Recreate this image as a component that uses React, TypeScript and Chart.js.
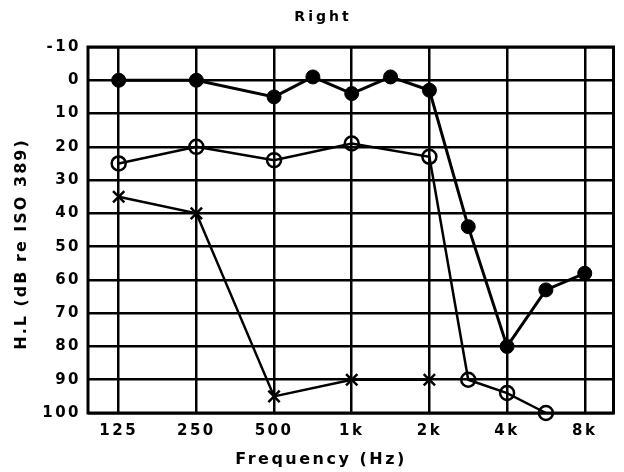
import React, { useEffect, useRef } from "react";
import { Chart, registerables } from "chart.js";

Chart.register(...registerables);

// Octave positions (125 Hz = 0) and their frequency labels
const freqLabels = ["125", "250", "500", "750", "1k", "1.5k", "2k", "3k", "4k", "6k", "8k"];
const freqPos = [0, 1, 2, 2.5, 3, 3.5, 4, 4.5, 5, 5.5, 6];
const tickPos = [0, 1, 2, 3, 4, 5, 6];
const tickLabels = ["125", "250", "500", "1k", "2k", "4k", "8k"];

// Hearing levels, dB (null = not measured)
const filledSeries: (number | null)[] = [0, 0, 5, -1, 4, -1, 3, 44, 80, 63, 58];
const openSeries: (number | null)[] = [25, 20, 24, null, 19, null, 23, 90, 94, 100, null];
const crossSeries: (number | null)[] = [35, 40, 95, null, 90, null, 90, null, null, null, null];

const toPoints = (vals: (number | null)[]) =>
  vals
    .map((v, i) => (v === null ? null : { x: freqPos[i], y: v }))
    .filter((p) => p !== null) as { x: number; y: number }[];

const FONT = "'DejaVu Sans', sans-serif";
const TICK_SPACING = "2.5px";

const setSpacing = (chart: any) => {
  chart.ctx.letterSpacing = TICK_SPACING;
};

const framePlugin = {
  id: "frame",
  beforeUpdate: setSpacing,
  beforeLayout: setSpacing,
  beforeDraw: setSpacing,
  afterDraw(chart: any) {
    const { ctx, chartArea } = chart;
    ctx.save();
    ctx.strokeStyle = "#000";
    ctx.lineWidth = 3;
    ctx.strokeRect(chartArea.left, chartArea.top, chartArea.right - chartArea.left, chartArea.bottom - chartArea.top);
    ctx.fillStyle = "#000";
    ctx.textAlign = "center";
    ctx.textBaseline = "middle";
    ctx.letterSpacing = "3px";
    ctx.font = `bold 14px ${FONT}`;
    ctx.fillText("Right", 323, 17);
    ctx.letterSpacing = "2.5px";
    ctx.font = `bold 16px ${FONT}`;
    ctx.fillText("Frequency (Hz)", 321, 460);
    ctx.letterSpacing = "2px";
    ctx.translate(22, 244);
    ctx.rotate(-Math.PI / 2);
    ctx.fillText("H.L (dB re ISO 389)", 0, 0);
    ctx.restore();
  },
};

export default function App() {
  const ref = useRef<HTMLCanvasElement>(null);

  useEffect(() => {
    if (!ref.current) return;
    const chart = new Chart(ref.current, {
      type: "line",
      data: {
        datasets: [
          {
            label: "filled",
            data: toPoints(filledSeries),
            borderColor: "#000",
            backgroundColor: "#000",
            borderWidth: 3,
            pointStyle: "circle",
            pointRadius: 7,
            pointBorderWidth: 1,
            pointBackgroundColor: "#000",
            pointBorderColor: "#000",
            tension: 0,
          },
          {
            label: "open",
            data: toPoints(openSeries),
            borderColor: "#000",
            borderWidth: 2.5,
            pointStyle: "circle",
            pointRadius: 7,
            pointBorderWidth: 2.5,
            pointBackgroundColor: "rgba(0,0,0,0)",
            pointBorderColor: "#000",
            tension: 0,
          },
          {
            label: "cross",
            data: toPoints(crossSeries),
            borderColor: "#000",
            borderWidth: 2.5,
            pointStyle: "crossRot",
            pointRadius: 8,
            pointBorderWidth: 2.5,
            pointBorderColor: "#000",
            tension: 0,
          },
        ],
      },
      options: {
        animation: false,
        responsive: false,
        clip: false as any,
        layout: { padding: { left: 0, top: 47, right: 7, bottom: 0 } },
        plugins: {
          legend: { display: false },
          title: { display: false },
          tooltip: { enabled: false },
        },
        scales: {
          x: {
            type: "linear",
            min: -0.395,
            max: 6.37,
            afterFit(scale: any) {
              scale.height = 59;
            },
            afterBuildTicks(scale: any) {
              scale.ticks = tickPos.map((v) => ({ value: v }));
            },
            ticks: {
              padding: 9,
              color: "#000",
              font: { family: FONT, size: 15, weight: "bold" },
              maxRotation: 0,
              autoSkip: false,
              callback: (v: any) => {
                const i = tickPos.indexOf(Number(v));
                return i >= 0 ? tickLabels[i] : "";
              },
            },
            grid: { color: "#000", lineWidth: 2.5, drawTicks: false },
            border: { display: false },
          },
          y: {
            type: "linear",
            min: -10,
            max: 100,
            reverse: true,
            afterFit(scale: any) {
              scale.width = 88;
            },
            ticks: {
              stepSize: 10,
              padding: 7,
              color: "#000",
              font: { family: FONT, size: 15, weight: "bold" },
            },
            grid: { color: "#000", lineWidth: 2.5, drawTicks: false },
            border: { display: false },
          },
        },
      },
      plugins: [framePlugin],
    });
    return () => chart.destroy();
  }, []);

  return (
    <div style={{ position: "fixed", left: 0, top: 0, width: 624, height: 472, background: "#fff" }}>
      <canvas ref={ref} width={624} height={472} />
    </div>
  );
}
